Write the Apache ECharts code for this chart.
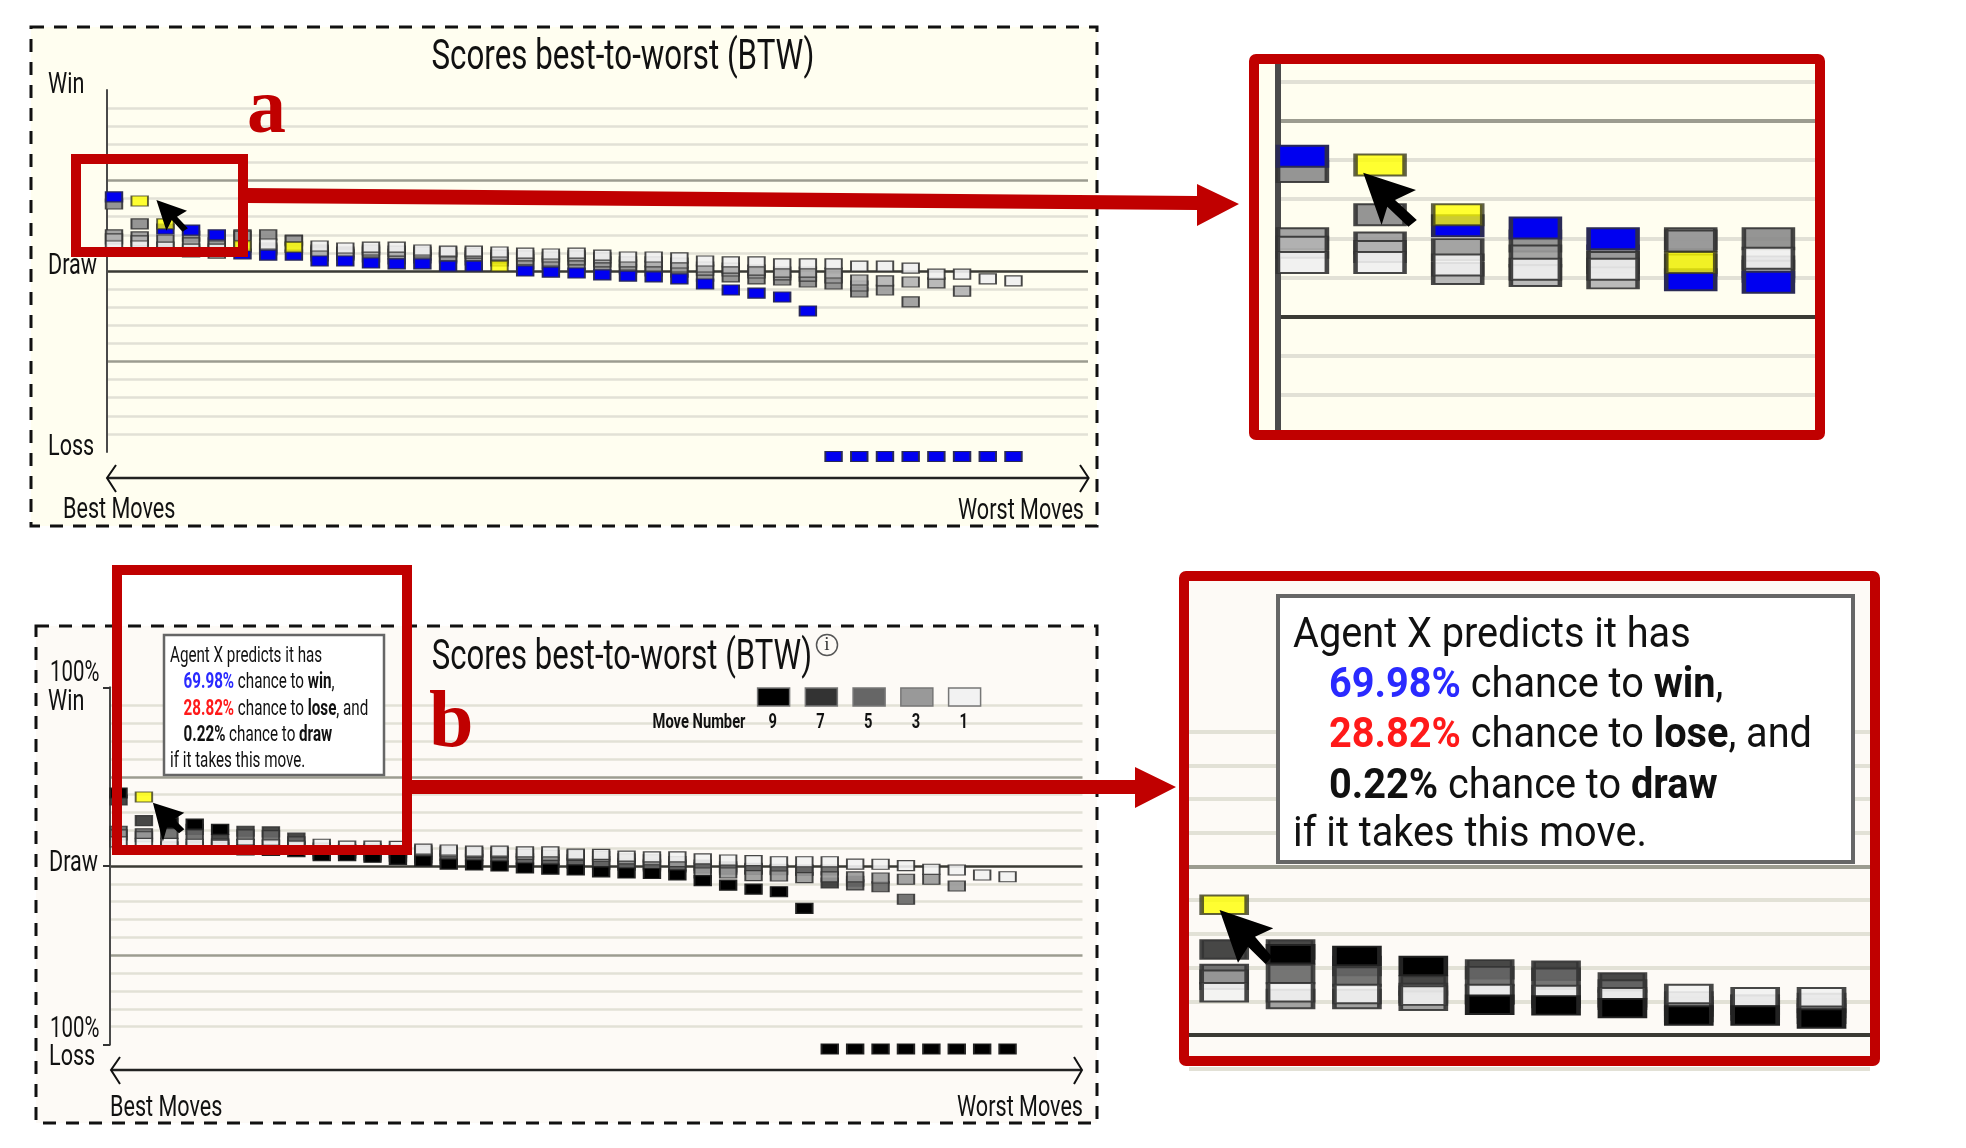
<!DOCTYPE html>
<html>
<head>
<meta charset="utf-8">
<title>Scores best-to-worst</title>
<style>
html, body { margin: 0; padding: 0; background: #fff; }
#chart { width: 1966px; height: 1148px; filter: blur(0.5px); }
</style>
<script src="https://cdn.jsdelivr.net/npm/echarts@6/dist/echarts.min.js"></script>
</head>
<body>
<div id="chart"></div>
<script>
'use strict';

// score in percent (win minus loss) per rank, one array per move number, chart a
var a9 = [43.4, 41.16, 25.7, 25.1, 22.4, 11.9, 11.3, 11.3, 8.0, 8.0, 6.9, 6.4, 6.4, 5.2, 5.2, 5.2, 2.5, 1.9, 1.4, 0.3, -0.3, -0.8, -1.9, -4.7, -8.0, -9.7, -11.9, -19.6, -100, -100, -100, -100, -100, -100, -100, -100];
var a7 = [39.5, 28.5, 28.5, 21.8, 18.0, 22.4, 22.4, 19.6, 10.8, 11.3, 10.2, 9.1, 9.7, 9.7, 8.6, 8.0, 6.4, 6.4, 5.8, 4.7, 3.6, 2.5, 1.9, -0.3, -0.8, -1.9, -2.5, -3.6, -4.7, -9.1, null, null, null, null, null, null];
var a5 = [22.4, 21.3, 19.6, 18.0, 16.3, 21.8, 15.2, 19.1, 14.1, 13.0, 13.0, 11.9, 11.3, 10.8, 10.8, 9.7, 8.6, 8.0, 8.6, 7.5, 5.8, 5.2, 4.7, 3.0, 2.5, 1.4, 0.3, -0.3, -1.4, -5.8, -8.0, -14.6, null, null, null, null];
var a3 = [20.2, 19.1, 13.5, 13.0, 12.4, 15.7, 14.1, 15.7, 13.0, 11.9, 14.1, 13.5, 13.0, 13.0, 12.4, 11.3, 10.8, 10.2, 10.8, 9.7, 7.5, 7.5, 6.9, 4.7, 4.1, 3.0, 1.9, 1.9, 1.4, -2.5, -3.0, -3.6, -4.1, -8.6, null, null];
var a1 = [16.3, 16.3, 15.7, 14.6, 14.6, 16.3, 17.4, 15.7, 16.3, 15.2, 15.7, 15.7, 14.1, 13.5, 13.5, 13.0, 12.4, 11.9, 12.4, 11.3, 10.2, 10.2, 9.7, 8.0, 7.5, 7.5, 6.4, 6.4, 6.4, 5.2, 5.2, 4.1, 0.8, 0.8, -1.9, -3.0];

// same, chart b
var b9 = [43.4, 41.16, 26.5, 26.0, 23.0, 11.5, 11.3, 10.5, 8.3, 8.3, 7.4, 6.2, 5.3, 3.6, 3.1, 2.5, 1.4, 0.8, 0.3, -0.8, -1.4, -1.7, -2.5, -5.7, -8.2, -10.4, -11.9, -21.2, -100, -100, -100, -100, -100, -100, -100, -100];
var b7 = [39.5, 27.9, 27.9, 23.0, 17.2, 22.0, 21.6, 18.1, 9.3, 9.8, 8.8, 8.0, 7.0, 6.5, 6.3, 6.0, 5.0, 4.5, 4.0, 3.5, 3.0, 2.5, 2.0, 3.0, 2.0, 1.2, 0.7, 0.3, -7.0, -6.0, null, null, null, null, null, null];
var b5 = [22.0, 20.6, 20.6, 19.9, 15.0, 20.0, 19.5, 16.0, 11.0, 11.5, 10.5, 10.0, 9.0, 8.5, 8.3, 8.0, 6.5, 6.2, 6.0, 5.0, 4.0, 3.5, 3.0, 1.5, 0.8, 0.6, 0.4, 0.1, 0.3, -8.1, -9.1, -16.1, null, null, null, null];
var b3 = [20.0, 18.9, 13.2, 13.2, 12.7, 14.5, 13.5, 13.0, 12.5, 11.5, 12.0, 11.5, 11.0, 10.5, 10.0, 10.0, 9.0, 8.5, 8.5, 8.0, 6.5, 6.0, 5.0, -1.4, -1.4, -2.9, -3.1, -4.0, -3.6, -3.6, -4.2, -4.9, -4.9, -8.7, null, null];
var b1 = [16.0, 15.2, 15.2, 14.7, 14.2, 14.7, 14.4, 13.7, 14.7, 13.7, 13.7, 13.5, 12.0, 11.5, 10.9, 10.9, 10.4, 10.4, 9.2, 9.0, 8.1, 7.6, 7.6, 6.5, 5.9, 5.5, 4.9, 4.9, 4.9, 3.6, 3.5, 2.7, 0.7, 0.3, -2.5, -3.5];

var moveNumbers = [9, 7, 5, 3, 1];
var valuesA = { 9: a9, 7: a7, 5: a5, 3: a3, 1: a1 };
var valuesB = { 9: b9, 7: b7, 5: b5, 3: b3, 1: b1 };

// [move number, rank] of the marks shown yellow
var yellowA = [[9, 1], [7, 2], [1, 5], [1, 7], [9, 15]];
var yellowB = [[9, 1]];

var paletteA = { 9: '#0000f0', 7: '#8a8a8a', 5: '#9a9a9a', 3: '#b2b2b2', 1: '#efefef' };
var paletteB = { 9: '#000000', 7: '#333333', 5: '#666666', 3: '#999999', 1: '#f2f2f2' };

var roboto = 'Roboto, sans-serif';

var panels = [
    // main a
    { left: 107, top: 90, width: 981, height: 362, xMin: -0.272, xMax: 37.9, yMin: -100, yMax: 100, w: 16.5, h: 10, off: 4.5, border: 1.5, values: valuesA, palette: paletteA, yellow: yellowA, axisWidth: 2, gridWidth: 2.5, axisShow: true, clip: false },
    // main b
    { left: 110, top: 687.5, width: 972.5, height: 357, xMin: -0.335, xMax: 37.95, yMin: -100, yMax: 100, w: 16.5, h: 10, off: 4.5, border: 1.5, values: valuesB, palette: paletteB, yellow: yellowB, axisWidth: 2, gridWidth: 2.5, axisShow: true, clip: false },
    // close-up a
    { left: 1278, top: 63, width: 537, height: 371.3, xMin: -0.314, xMax: 6.6, yMin: -30, yMax: 64.7, w: 49, h: 21, off: 9.8, border: 3, values: valuesA, palette: paletteA, yellow: yellowA, axisWidth: 6, gridWidth: 4, axisShow: true, clip: true },
    // close-up b
    { left: 1189, top: 581, width: 681, height: 487.7, xMin: 0.47, xMax: 10.73, yMin: -10, yMax: 134.7, w: 45, h: 18.5, off: 8.5, border: 3, values: valuesB, palette: paletteB, yellow: yellowB, axisWidth: 0, gridWidth: 4, axisShow: false, clip: true }
];

function gridColors(min, max) {
    var colors = [];
    var values = [];
    for (var v = min; v <= max; v += 10) {
        values.push(v);
    }
    if (values[values.length - 1] !== max) {
        values.push(max);
    }
    values.forEach(function (x) {
        if (x === 0) {
            colors.push('#3a3a34');
        } else if (x === 50 || x === -50) {
            colors.push('#9c9c90');
        } else if (x % 10 !== 0 || x >= 100 || x <= -100) {
            colors.push('rgba(0,0,0,0)');
        } else {
            colors.push('#e2e1d6');
        }
    });
    return colors;
}

var grids = [];
var xAxes = [];
var yAxes = [];
var series = [];

panels.forEach(function (p, i) {
    grids.push({ left: p.left, top: p.top, width: p.width, height: p.height, show: false });
    xAxes.push({ type: 'value', gridIndex: i, min: p.xMin, max: p.xMax, show: false });
    yAxes.push({
        type: 'value',
        gridIndex: i,
        position: 'left',
        min: p.yMin,
        max: p.yMax,
        interval: 10,
        axisLabel: { show: false },
        axisLine: { show: p.axisShow, onZero: false, lineStyle: { color: '#4a4a4a', width: p.axisWidth } },
        axisTick: { show: false },
        splitLine: { show: true, lineStyle: { color: gridColors(p.yMin, p.yMax), width: p.gridWidth } }
    });

    // greys go underneath, white and the last move stay fully visible
    [7, 5, 3, 1, 9].forEach(function (move) {
        var data = [];
        p.values[move].forEach(function (value, rank) {
            var isYellow = p.yellow.some(function (y) { return y[0] === move && y[1] === rank; });
            if (value !== null && !isYellow) {
                data.push([rank, value]);
            }
        });
        series.push({
            type: 'scatter',
            name: 'move ' + move,
            xAxisIndex: i,
            yAxisIndex: i,
            symbol: 'rect',
            symbolSize: [p.w, p.h],
            symbolOffset: [0, p.off],
            clip: p.clip,
            silent: true,
            itemStyle: {
                color: p.palette[move],
                opacity: move === 9 ? 1 : 0.9,
                borderColor: move === 9 ? (p.palette === paletteA ? '#2a2a55' : '#222') : '#333333',
                borderWidth: p.border
            },
            data: data
        });
    });

    series.push({
        type: 'scatter',
        name: 'selected',
        xAxisIndex: i,
        yAxisIndex: i,
        symbol: 'rect',
        symbolSize: [p.w, p.h],
        symbolOffset: [0, p.off],
        clip: p.clip,
        silent: true,
        z: 3,
        itemStyle: { color: '#ffff00', borderColor: '#3a3a20', borderWidth: p.border },
        data: p.yellow.map(function (y) { return [y[1], p.values[y[0]][y[1]]]; })
    });
});

// extra axis on chart b: only the 100% / draw / 100% ticks
yAxes.push({
    type: 'value',
    gridIndex: 1,
    position: 'left',
    min: -100,
    max: 100,
    interval: 100,
    axisLabel: { show: false },
    axisLine: { show: true, onZero: false, lineStyle: { color: '#4a4a4a', width: 2 } },
    axisTick: { show: true, length: 7, lineStyle: { color: '#333', width: 2 } },
    splitLine: { show: false }
});

// the reference text is squeezed sideways, so everything carries a scaleX
function text(str, x, y, size, scale, extra) {
    var style = { text: str, x: 0, y: 0, fontSize: size, fontFamily: roboto, fill: '#111', align: 'left', verticalAlign: 'middle' };
    Object.keys(extra || {}).forEach(function (k) {
        style[k] = extra[k];
    });
    return { type: 'text', z: 40, silent: true, x: x, y: y, scaleX: scale, style: style };
}

function box(x, y, w, h, style, z, r) {
    return { type: 'rect', z: z, silent: true, shape: { x: x, y: y, width: w, height: h, r: r || 0 }, style: style };
}

function poly(points, fill, z) {
    return { type: 'polygon', z: z, silent: true, shape: { points: points }, style: { fill: fill } };
}

function chevron(points) {
    return { type: 'polyline', z: 5, silent: true, shape: { points: points }, style: { stroke: '#111', lineWidth: 2, fill: null } };
}

var red = '#c00000';
var dashed = { fill: null, stroke: '#111', lineWidth: 3, lineDash: [13, 10] };
var serifBold = { fontFamily: '"Liberation Serif", serif', fontWeight: 'bold', fill: red };

var elements = [
    // panels
    box(31, 27, 1066, 499, { fill: '#fffef0' }, -10),
    box(31, 27, 1066, 499, dashed, 1),
    box(36, 626, 1061, 497, { fill: '#fdfaf6' }, -10),
    box(36, 626, 1061, 497, dashed, 1),
    box(1254, 59, 566, 376, { fill: '#fffef0' }, -10),
    box(1184, 576, 691, 485, { fill: '#fdfaf6' }, -10),

    // panel a text
    text('Scores best-to-worst (BTW)', 623, 58, 42, 0.745, { align: 'center' }),
    text('Win', 48, 85, 30, 0.72),
    text('Draw', 48, 266, 30, 0.72),
    text('Loss', 48, 447, 30, 0.72),
    text('Best Moves', 63, 510, 30, 0.72),
    text('Worst Moves', 1084, 511, 30, 0.72, { align: 'right' }),
    { type: 'text', z: 40, silent: true, x: 247, y: 112, style: Object.assign({ text: 'a', x: 0, y: 0, fontSize: 78, verticalAlign: 'middle' }, serifBold) },

    // panel a x arrow
    { type: 'line', z: 5, silent: true, shape: { x1: 107, y1: 478, x2: 1088, y2: 478 }, style: { stroke: '#222', lineWidth: 2.5 } },
    chevron([[116, 465], [107, 478], [116, 492]]),
    chevron([[1080, 465], [1088.6, 478], [1080, 492]]),

    // panel b text
    text('Scores best-to-worst (BTW)', 622, 658, 42, 0.74, { align: 'center' }),
    text('100%', 50, 673, 30, 0.68),
    text('Win', 48, 702, 30, 0.72),
    text('Draw', 49, 863, 30, 0.72),
    text('100%', 50, 1029, 30, 0.68),
    text('Loss', 49, 1057, 30, 0.72),
    text('Best Moves', 110, 1108, 30, 0.72),
    text('Worst Moves', 1083, 1108, 30, 0.72, { align: 'right' }),
    { type: 'text', z: 40, silent: true, x: 429, y: 725, style: Object.assign({ text: 'b', x: 0, y: 0, fontSize: 80, verticalAlign: 'middle' }, serifBold) },
    { type: 'circle', z: 40, silent: true, shape: { cx: 827, cy: 645, r: 10.5 }, style: { fill: 'rgba(0,0,0,0)', stroke: '#555', lineWidth: 1.5 } },
    text('i', 827, 645, 19, 1, { align: 'center', fontFamily: '"Liberation Serif", serif', fill: '#333' }),
    text('Move Number', 699, 723, 21, 0.7, { align: 'center', fontWeight: 'bold' }),

    // panel b x arrow
    { type: 'line', z: 5, silent: true, shape: { x1: 111, y1: 1070, x2: 1082, y2: 1070 }, style: { stroke: '#222', lineWidth: 2.5 } },
    chevron([[120, 1057], [111, 1070], [120, 1084]]),
    chevron([[1074, 1057], [1082, 1070], [1074, 1084]]),

    // callout on panel b
    box(164, 635, 220, 140, { fill: '#fff', stroke: '#666', lineWidth: 2.5 }, 30),
    box(1278, 596, 575, 266, { fill: '#fff', stroke: '#666', lineWidth: 4 }, 30),

    // red frames and connectors
    box(76, 159, 167, 93, { fill: null, stroke: red, lineWidth: 10 }, 50),
    box(117, 570, 290, 280, { fill: null, stroke: red, lineWidth: 10 }, 50),
    box(1254, 59, 566, 376, { fill: null, stroke: red, lineWidth: 10 }, 50, 2),
    box(1184, 576, 691, 485, { fill: null, stroke: red, lineWidth: 10 }, 50, 2),
    poly([[246, 188], [1197, 196], [1197, 184], [1239, 204], [1197, 226], [1197, 210], [246, 203]], red, 50),
    poly([[407, 780], [1135, 780], [1135, 767], [1176, 787], [1135, 808], [1135, 794], [407, 794]], red, 50),

    // cursors
    poly([[156.4, 200], [187, 210.7], [177, 216.7], [187.9, 228.3], [182.5, 231.7], [171.8, 220], [166.4, 230.7]], '#000', 45),
    poly([[152.9, 802.7], [184.3, 812.7], [174.3, 819.3], [184.3, 829.3], [179, 833.3], [168.2, 823.3], [162.9, 841.7]], '#000', 45),
    poly([[1363.2, 172.7], [1416, 190], [1395, 200], [1416.8, 220], [1408.4, 226.7], [1387.3, 206.7], [1381.6, 225]], '#000', 45),
    poly([[1219.6, 910], [1273.3, 928.3], [1255, 936.7], [1272, 956.7], [1265.5, 964], [1248, 946.7], [1238, 962.7]], '#000', 45)
];

// legend on panel b
moveNumbers.forEach(function (move, i) {
    var cx = 773.6 + i * 47.75;
    elements.push(box(cx - 16, 688, 32, 18, { fill: paletteB[move], stroke: '#777', lineWidth: 1.5 }, 20));
    elements.push(text(String(move), cx - 1, 723, 21, 0.7, { align: 'center', fontWeight: 'bold' }));
});

function calloutText(x, indent, y, size, scale) {
    function tone(color) {
        return { fill: color, fontSize: size, fontFamily: roboto, fontWeight: 'bold' };
    }
    var rich = { blue: tone('#2a2aff'), rose: tone('#ff1a1a'), dark: tone('#111'), bold: tone('#111') };
    elements.push(text('Agent X predicts it has', x, y[0], size, scale));
    elements.push(text('{blue|69.98%} chance to {bold|win},', indent, y[1], size, scale, { rich: rich }));
    elements.push(text('{rose|28.82%} chance to {bold|lose}, and', indent, y[2], size, scale, { rich: rich }));
    elements.push(text('{dark|0.22%} chance to {bold|draw}', indent, y[3], size, scale, { rich: rich }));
    elements.push(text('if it takes this move.', x, y[4], size, scale));
}

calloutText(170, 183.6, [656, 682.7, 709, 735.7, 761], 22, 0.69);
calloutText(1293, 1329, [636, 686, 736, 787, 835], 42, 0.945);

var chart = echarts.init(document.getElementById('chart'), null, { renderer: 'canvas' });
chart.setOption({
    animation: false,
    backgroundColor: '#ffffff',
    tooltip: { show: false },
    grid: grids,
    xAxis: xAxes,
    yAxis: yAxes,
    series: series,
    graphic: { elements: elements }
});
</script>
</body>
</html>
